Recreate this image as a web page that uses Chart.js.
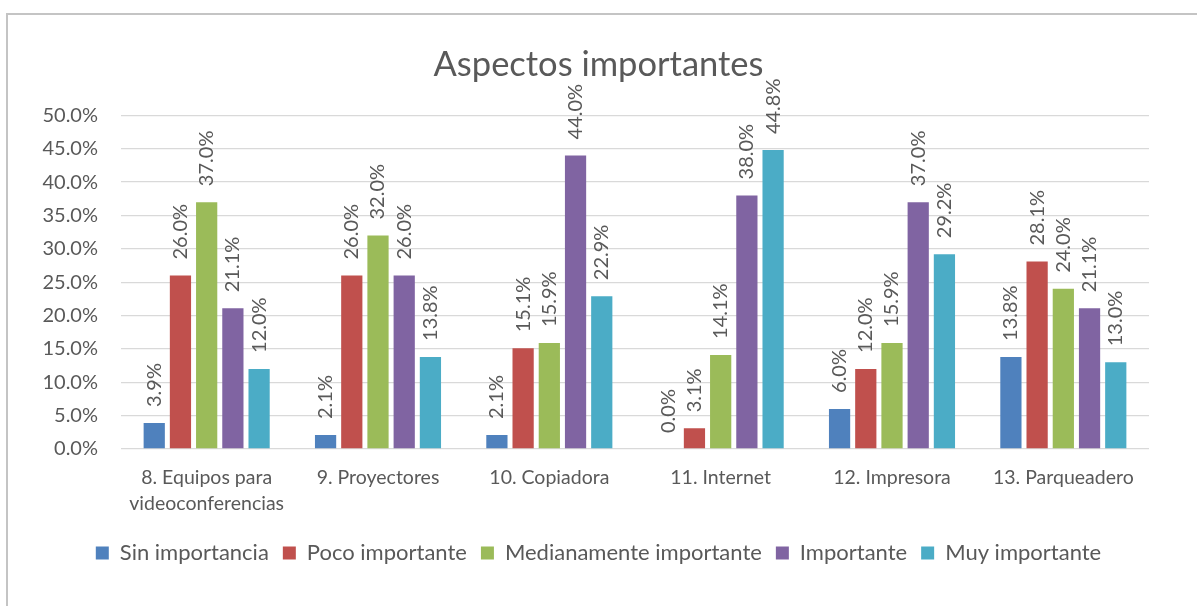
<!DOCTYPE html>
<html>
<head>
<meta charset="utf-8">
<script src="https://cdn.jsdelivr.net/npm/chart.js@4"></script>
<style>
  html, body { margin: 0; padding: 0; background: #ffffff; }
  canvas { display: block; }
</style>
</head>
<body>
<canvas id="c" width="1197" height="606"></canvas>
<script>
const categories = [
  ["8. Equipos para", "videoconferencias"],
  "9. Proyectores",
  "10. Copiadora",
  "11. Internet",
  "12. Impresora",
  "13. Parqueadero"
];
const seriesNames = ["Sin importancia", "Poco importante", "Medianamente importante", "Importante", "Muy importante"];
const sinImportancia = [3.9, 2.1, 2.1, 0.0, 6.0, 13.8];
const pocoImportante = [26.0, 26.0, 15.1, 3.1, 12.0, 28.1];
const medianamente = [37.0, 32.0, 15.9, 14.1, 15.9, 24.0];
const importante = [21.1, 26.0, 44.0, 38.0, 37.0, 21.1];
const muyImportante = [12.0, 13.8, 22.9, 44.8, 29.2, 13.0];
const yTicks = [0, 5, 10, 15, 20, 25, 30, 35, 40, 45, 50];
const title = "Aspectos importantes";

const colors = ["#4F81BD", "#C0504D", "#9BBB59", "#8064A2", "#4BACC6"];
const FONT = "Lato, 'Open Sans', sans-serif";
const TXT = "#595959";

const allSeries = [sinImportancia, pocoImportante, medianamente, importante, muyImportante];

const frame = {
  id: 'frame',
  beforeDraw(chart) {
    const ctx = chart.ctx;
    ctx.save();
    ctx.fillStyle = '#ffffff';
    ctx.fillRect(0, 0, chart.width, chart.height);
    ctx.strokeStyle = '#c4c4c4';
    ctx.lineWidth = 2;
    ctx.strokeRect(7, 14, 1300, 700);
    ctx.restore();
  }
};

const valueLabels = {
  id: 'valueLabels',
  afterDatasetsDraw(chart) {
    const ctx = chart.ctx;
    ctx.save();
    ctx.font = "20px " + FONT;
    ctx.fillStyle = TXT;
    ctx.textAlign = 'left';
    ctx.textBaseline = 'middle';
    chart.data.datasets.forEach((ds, di) => {
      const meta = chart.getDatasetMeta(di);
      meta.data.forEach((el, i) => {
        const v = ds.data[i];
        ctx.save();
        ctx.translate(el.x, el.y - 16);
        ctx.rotate(-Math.PI / 2);
        ctx.fillText(v.toFixed(1) + '%', 0, 0);
        ctx.restore();
      });
    });
    ctx.restore();
  }
};

new Chart(document.getElementById('c'), {
  type: 'bar',
  data: {
    labels: categories,
    datasets: seriesNames.map((n, i) => ({
      label: n,
      data: allSeries[i],
      backgroundColor: colors[i],
      borderWidth: 0,
      categoryPercentage: 0.765,
      barPercentage: 0.81
    }))
  },
  options: {
    responsive: false,
    animation: false,
    devicePixelRatio: 1,
    layout: { padding: { left: 0, right: 0, top: 44, bottom: 32 } },
    plugins: {
      title: {
        display: true,
        text: title,
        color: TXT,
        font: { family: FONT, size: 34.5, weight: 'normal' },
        padding: { top: 0, bottom: 30 }
      },
      legend: {
        position: 'bottom',
        labels: {
          color: TXT,
          font: { family: FONT, size: 22 },
          boxWidth: 13,
          boxHeight: 13,
          padding: 14
        }
      },
      tooltip: { enabled: false }
    },
    scales: {
      x: {
        grid: { display: false },
        border: { display: false },
        ticks: {
          color: TXT,
          font: { family: FONT, size: 19.5, lineHeight: 1.33 },
          padding: 8,
          maxRotation: 0,
          minRotation: 0,
          autoSkip: false
        },
        afterFit(scale) { scale.height = 79; }
      },
      y: {
        min: 0,
        max: 50,
        grid: { color: '#d9d9d9', lineWidth: 1.3, drawTicks: false },
        border: { display: false },
        afterBuildTicks(scale) { scale.ticks = yTicks.map(v => ({ value: v })); },
        ticks: {
          color: TXT,
          font: { family: FONT, size: 20 },
          padding: 23,
          callback: v => Number(v).toFixed(1) + '%'
        },
        afterFit(scale) { scale.width = 121; }
      },
      yRightSpace: {
        position: 'right',
        display: true,
        min: 0,
        max: 50,
        grid: { display: false },
        border: { display: false },
        ticks: { display: false },
        afterFit(scale) { scale.width = 48; }
      }
    }
  },
  plugins: [frame, valueLabels]
});
</script>
</body>
</html>
